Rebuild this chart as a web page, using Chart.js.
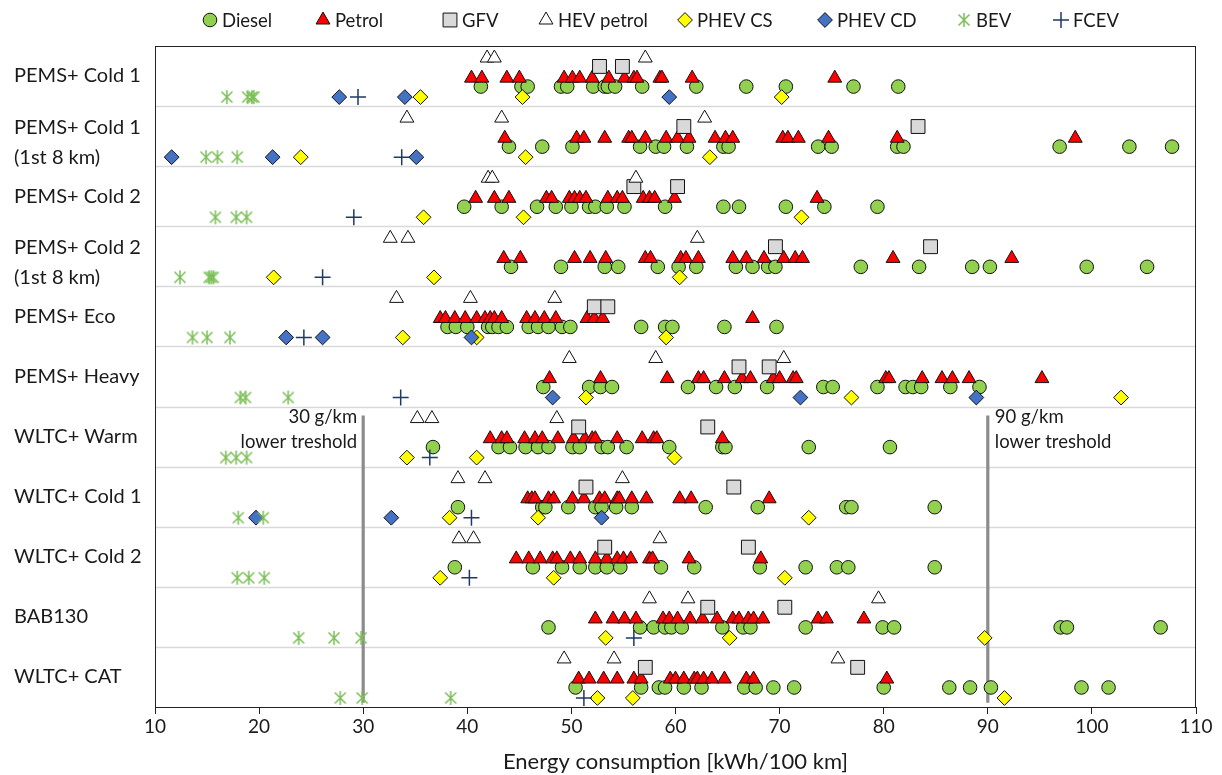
<!DOCTYPE html>
<html>
<head>
<meta charset="utf-8">
<script src="https://cdn.jsdelivr.net/npm/chart.js@4.4.1/dist/chart.umd.min.js"></script>
<style>
  html, body { margin: 0; padding: 0; background: #fff; }
  #wrap { width: 1222px; height: 775px; }
</style>
</head>
<body>
<div id="wrap"><canvas id="c" width="1222" height="775"></canvas></div>
<script>
// Test cycles, top to bottom
const cycles = [
  'PEMS+ Cold 1',
  ['PEMS+ Cold 1', '(1st 8 km)'],
  'PEMS+ Cold 2',
  ['PEMS+ Cold 2', '(1st 8 km)'],
  'PEMS+ Eco',
  'PEMS+ Heavy',
  'WLTC+ Warm',
  'WLTC+ Cold 1',
  'WLTC+ Cold 2',
  'BAB130',
  'WLTC+ CAT'
];

// Energy consumption [kWh/100 km] per powertrain, one list per cycle
const diesel = [
  [41.3, 45.2, 45.8, 49.0, 49.6, 52.1, 53.2, 53.5, 54.2, 56.8, 62.0, 66.8, 70.6, 77.1, 81.4],
  [44.0, 47.2, 50.1, 56.6, 58.1, 58.9, 61.1, 64.6, 65.1, 73.7, 75.0, 81.3, 81.9, 96.9, 103.6, 107.7],
  [39.7, 43.3, 46.7, 48.5, 50.0, 51.7, 52.3, 53.4, 55.1, 59.0, 64.6, 66.1, 70.6, 74.3, 79.4],
  [44.2, 49.0, 53.2, 54.5, 58.3, 60.3, 62.0, 65.8, 67.4, 68.9, 69.6, 77.8, 83.4, 88.5, 90.2, 99.5, 105.3],
  [38.1, 38.9, 40.0, 42.0, 42.4, 43.0, 43.8, 45.9, 46.8, 47.8, 49.1, 49.9, 56.7, 59.0, 59.7, 64.7, 69.7],
  [47.3, 51.7, 52.8, 53.9, 61.2, 63.9, 65.7, 68.8, 74.2, 75.1, 79.4, 82.1, 82.8, 83.6, 86.4, 89.2],
  [36.7, 43.0, 44.1, 45.6, 46.8, 47.8, 50.1, 50.8, 52.9, 53.5, 55.3, 59.4, 64.5, 64.8, 72.8, 80.6],
  [39.1, 47.2, 47.5, 49.7, 52.3, 52.9, 54.3, 55.8, 62.9, 67.9, 76.4, 76.9, 84.9],
  [38.8, 46.3, 49.1, 50.8, 52.3, 53.4, 54.7, 58.6, 61.8, 68.1, 72.5, 75.5, 76.6, 84.9],
  [47.8, 56.6, 57.9, 59.0, 59.6, 60.6, 64.5, 66.5, 67.2, 72.5, 79.9, 81.0, 97.0, 97.6, 106.6],
  [50.4, 56.7, 58.4, 59.0, 60.8, 62.5, 66.6, 67.7, 69.4, 71.4, 80.0, 86.3, 88.3, 90.3, 99.0, 101.6]
];
const petrol = [
  [40.4, 41.4, 43.8, 45.0, 49.3, 50.1, 50.8, 52.0, 53.6, 55.1, 56.0, 56.3, 58.5, 58.7, 61.6, 75.3],
  [43.6, 50.5, 51.2, 53.2, 55.5, 55.8, 57.1, 59.1, 60.2, 61.3, 63.8, 64.8, 65.5, 70.3, 70.8, 71.8, 74.7, 81.3, 98.4],
  [40.8, 42.6, 44.0, 47.6, 48.1, 49.8, 50.3, 50.8, 51.4, 53.5, 54.4, 54.9, 56.9, 57.5, 58.0, 59.9, 73.6],
  [43.5, 45.1, 50.3, 51.8, 53.3, 57.1, 57.6, 60.5, 61.0, 62.2, 65.5, 66.8, 68.5, 70.4, 71.5, 72.2, 80.9, 92.3],
  [37.4, 37.9, 38.8, 39.8, 40.9, 41.7, 42.2, 42.6, 43.3, 45.7, 46.5, 47.4, 48.5, 51.5, 52.2, 53.0, 67.4],
  [47.9, 52.8, 59.2, 62.2, 62.7, 64.7, 66.4, 67.2, 69.4, 70.0, 71.3, 71.6, 80.2, 80.5, 83.7, 85.6, 86.6, 88.2, 95.2],
  [42.2, 43.3, 43.8, 45.5, 46.5, 47.2, 48.7, 50.2, 51.3, 52.0, 52.3, 54.4, 56.8, 57.9, 58.2, 64.5],
  [45.8, 46.2, 46.5, 47.8, 48.3, 50.1, 51.2, 52.7, 53.2, 54.4, 54.6, 55.8, 57.2, 60.4, 61.5, 69.0],
  [44.7, 45.9, 47.0, 48.2, 48.6, 49.9, 50.8, 52.3, 53.4, 54.4, 55.0, 55.7, 57.5, 57.8, 61.3, 68.2],
  [52.3, 54.0, 55.1, 56.2, 58.8, 59.4, 60.2, 61.4, 62.6, 64.0, 65.5, 66.1, 67.0, 67.5, 68.4, 73.7, 74.5, 78.1],
  [50.7, 51.7, 53.1, 54.4, 56.0, 56.7, 59.5, 60.0, 60.8, 61.8, 62.1, 62.7, 63.5, 64.7, 66.8, 67.5, 80.3]
];
const gfv = [
  [52.7, 54.9], [60.8, 83.3], [56.0, 60.2], [69.6, 84.5], [52.2, 53.5], [66.1, 69.0],
  [50.7, 63.1], [51.4, 65.6], [53.2, 67.0], [63.1, 70.5], [57.1, 77.5]
];
const hevPetrol = [
  [41.9, 42.6, 57.1], [34.2, 43.3, 62.8], [42.0, 42.4, 56.2], [32.6, 34.3, 62.1],
  [33.2, 40.3, 48.4], [49.8, 58.1, 70.4], [35.2, 36.6, 48.6], [39.1, 41.7, 54.9],
  [39.2, 40.6, 58.5], [57.5, 61.2, 79.5], [49.3, 54.1, 75.6]
];
const phevCS = [
  [35.5, 45.3, 70.2], [24.0, 45.6, 63.3], [35.8, 45.4, 72.1], [21.4, 36.8, 60.4],
  [33.8, 40.9, 59.1], [51.4, 76.9, 102.8], [34.2, 40.9, 59.9], [38.3, 46.8, 72.8],
  [37.4, 48.3, 70.5], [53.3, 65.2, 89.7], [52.5, 55.9, 91.6]
];
const phevCD = [
  [27.7, 34.0, 59.4], [11.6, 21.3, 35.1], [], [], [22.6, 26.1, 40.4], [48.2, 72.0, 88.9],
  [], [19.7, 32.7, 52.9], [], [], []
];
const bev = [
  [16.9, 18.9, 19.3, 19.5], [14.9, 16.0, 17.9], [15.8, 17.8, 18.8], [12.4, 15.2, 15.4, 15.6],
  [13.6, 15.0, 17.2], [18.2, 18.7, 22.8], [16.8, 17.8, 18.8], [18.0, 20.4],
  [17.9, 19.0, 20.5], [23.8, 27.2, 29.8], [27.8, 29.9, 38.4]
];
const fcev = [
  [29.5], [33.7], [29.1], [26.1], [24.3], [33.6], [36.4], [40.4], [40.2], [56.0], [51.2]
];

// CO2 thresholds [g/km] marked as vertical lines at their energy equivalent
const thresholds = [30, 90];
const thresholdLabels = ['30 g/km', '90 g/km'];
const thresholdNote = 'lower treshold';

const xTicks = { min: 10, max: 110, step: 10 };

// ---- layout / styling ----
const FONT = 'Lato, "Open Sans", sans-serif';
const TEXT = '#1a1a1a';
// vertical slot of each powertrain inside its cycle band (fraction of band)
const lane = { hev: 0.20, gfv: 0.34, petrol: 0.535, diesel: 0.675, low: 0.85 };
const threshSpan = [6.15, 10.93];

function toPoints(rows, off) {
  const pts = [];
  rows.forEach((vals, i) => vals.forEach(v => pts.push({ x: v, y: i + off })));
  return pts;
}

function asterisk(color) {
  const c = document.createElement('canvas');
  c.width = 16; c.height = 16;
  const g = c.getContext('2d');
  g.strokeStyle = color;
  g.lineWidth = 1.5;
  g.beginPath();
  g.moveTo(8, 1); g.lineTo(8, 15);
  g.moveTo(2.5, 2.5); g.lineTo(13.5, 13.5);
  g.moveTo(13.5, 2.5); g.lineTo(2.5, 13.5);
  g.stroke();
  return c;
}
const bevMark = asterisk('#7CBF58');

const series = [
  { label: 'Diesel', data: toPoints(diesel, lane.diesel), pointStyle: 'circle', pointRadius: 6.8,
    backgroundColor: '#92D050', borderColor: '#111', borderWidth: 1, order: 8 },
  { label: 'Petrol', data: toPoints(petrol, lane.petrol), pointStyle: 'triangle', pointRadius: 8,
    backgroundColor: '#FF0000', borderColor: '#111', borderWidth: 1, order: 7 },
  { label: 'GFV', data: toPoints(gfv, lane.gfv), pointStyle: 'rect', pointRadius: 9.8,
    backgroundColor: '#D9D9D9', borderColor: '#111', borderWidth: 1, order: 6 },
  { label: 'HEV petrol', data: toPoints(hevPetrol, lane.hev), pointStyle: 'triangle', pointRadius: 8,
    backgroundColor: '#FFFFFF', borderColor: '#111', borderWidth: 1, order: 5 },
  { label: 'PHEV CS', data: toPoints(phevCS, lane.low), pointStyle: 'rectRot', pointRadius: 7.4,
    backgroundColor: '#FFFF00', borderColor: '#111', borderWidth: 1, order: 4 },
  { label: 'PHEV CD', data: toPoints(phevCD, lane.low), pointStyle: 'rectRot', pointRadius: 7.4,
    backgroundColor: '#4472C4', borderColor: '#111', borderWidth: 1, order: 3 },
  { label: 'BEV', data: toPoints(bev, lane.low), pointStyle: bevMark, pointRadius: 8,
    backgroundColor: '#7CBF58', borderColor: '#7CBF58', borderWidth: 1.5, order: 2 },
  { label: 'FCEV', data: toPoints(fcev, lane.low), pointStyle: 'cross', pointRadius: 8,
    backgroundColor: '#203864', borderColor: '#203864', borderWidth: 1.5, order: 1 }
];

const threshSets = thresholds.map(t => ({
  label: 'threshold ' + t,
  data: [{ x: t, y: threshSpan[0] }, { x: t, y: threshSpan[1] }],
  showLine: true, pointRadius: 0, borderColor: '#8C8C8C', borderWidth: 3.2, order: 9
}));

// tick centres for the cycle labels (two-line labels sit slightly lower)
const labelPos = cycles.map((c, i) => i + (Array.isArray(c) ? 0.6 : 0.5));

// light separators between cycle bands + frame around the plot
const bandsPlugin = {
  id: 'bands',
  beforeDatasetsDraw(chart) {
    const { ctx, chartArea: a, scales: { y } } = chart;
    ctx.save();
    ctx.strokeStyle = '#D9D9D9';
    ctx.lineWidth = 1.3;
    for (let i = 1; i < cycles.length; i++) {
      const py = Math.round(y.getPixelForValue(i)) + 0.5;
      ctx.beginPath(); ctx.moveTo(a.left, py); ctx.lineTo(a.right, py); ctx.stroke();
    }
    ctx.strokeStyle = '#222';
    ctx.lineWidth = 1;
    ctx.strokeRect(a.left + 0.5, a.top + 0.5, a.right - a.left - 1, a.bottom - a.top);
    ctx.restore();
  }
};

const thresholdText = {
  id: 'thresholdText',
  afterDatasetsDraw(chart) {
    const { ctx, scales: { x, y } } = chart;
    ctx.save();
    ctx.font = '18.5px ' + FONT;
    ctx.fillStyle = TEXT;
    ctx.textBaseline = 'middle';
    const top = y.getPixelForValue(threshSpan[0]);
    thresholds.forEach((t, k) => {
      const px = x.getPixelForValue(t);
      const leftSide = k === 0;
      ctx.textAlign = leftSide ? 'right' : 'left';
      const tx = leftSide ? px - 6 : px + 7;
      ctx.fillText(thresholdLabels[k], tx, top + 1);
      ctx.fillText(thresholdNote, tx, top + 26);
    });
    ctx.restore();
  }
};

// legend row across the top
const legendX = [210, 323, 450, 546, 685, 825, 964, 1061];
const legendRow = {
  id: 'legendRow',
  afterDraw(chart) {
    const { ctx } = chart;
    ctx.save();
    ctx.font = '18.5px ' + FONT;
    ctx.textBaseline = 'middle';
    ctx.textAlign = 'left';
    series.forEach((s, i) => {
      const cx = legendX[i], cy = 20;
      ctx.fillStyle = s.backgroundColor;
      ctx.strokeStyle = s.borderColor;
      ctx.lineWidth = s.borderWidth;
      Chart.helpers.drawPoint(ctx, {
        pointStyle: s.pointStyle, rotation: 0, radius: s.pointRadius, borderWidth: s.borderWidth
      }, cx, cy);
      ctx.fillStyle = TEXT;
      ctx.fillText(s.label, cx + 12, cy + 1);
    });
    ctx.restore();
  }
};

new Chart(document.getElementById('c'), {
  type: 'scatter',
  data: { datasets: [...series, ...threshSets] },
  options: {
    responsive: false,
    animation: false,
    devicePixelRatio: 1,
    events: [],
    layout: { padding: { top: 46, left: 14, right: 26, bottom: 0 } },
    plugins: { legend: { display: false }, tooltip: { enabled: false } },
    scales: {
      x: {
        type: 'linear',
        min: xTicks.min, max: xTicks.max,
        ticks: { stepSize: xTicks.step, color: TEXT, font: { family: FONT, size: 19 }, padding: 1, maxRotation: 0 },
        grid: { drawOnChartArea: false, drawTicks: true, tickLength: 7, color: '#222' },
        border: { display: true, color: '#222', width: 1 },
        title: { display: true, text: 'Energy consumption [kWh/100 km]', color: TEXT,
                 font: { family: FONT, size: 22 }, padding: { top: 0, bottom: 0 } },
        afterFit(s) { s.height = 68; }
      },
      y: {
        type: 'linear',
        min: 0, max: cycles.length,
        reverse: true,
        afterBuildTicks(s) { s.ticks = labelPos.map(v => ({ value: v })); },
        ticks: {
          autoSkip: false,
          crossAlign: 'far',
          color: TEXT,
          font: { family: FONT, size: 20, lineHeight: 1.5 },
          callback: (v, i) => cycles[i]
        },
        grid: { display: false },
        border: { display: true, color: '#222', width: 1 },
        afterFit(s) { s.width = 141; }
      }
    }
  },
  plugins: [bandsPlugin, thresholdText, legendRow]
});
</script>
</body>
</html>
